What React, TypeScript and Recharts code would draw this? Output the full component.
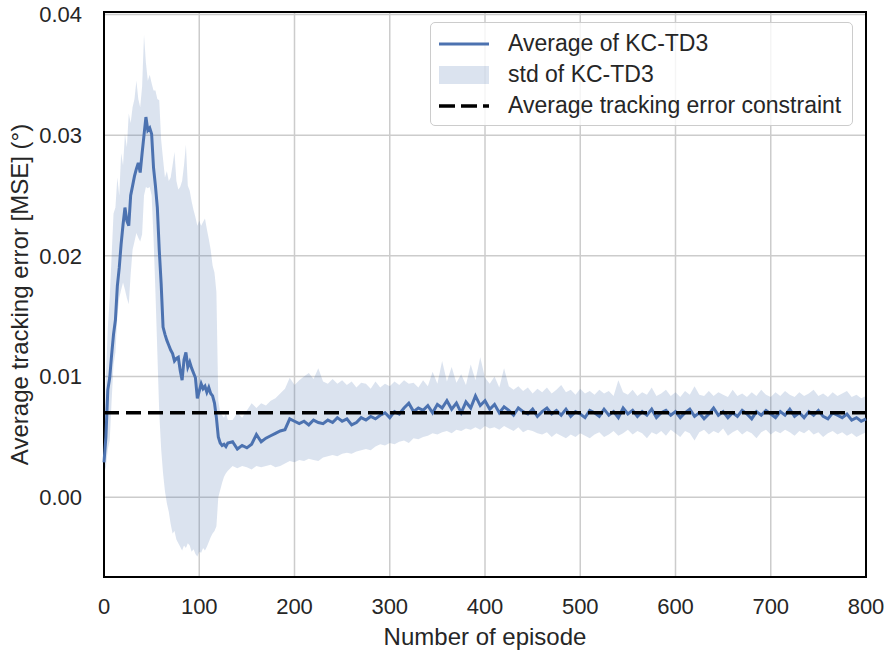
import React from "react";
import {
  ComposedChart,
  Area,
  Line,
  XAxis,
  YAxis,
  CartesianGrid,
  ReferenceLine,
  ReferenceArea,
} from "recharts";

// episode index of each sample (denser where the curve moves fast)
const episodes = [
  0, 2, 4, 6, 8, 10, 12, 14, 16, 18, 20, 22, 24, 26, 28, 30, 32, 34, 36, 38,
  40, 42, 44, 46, 48, 50, 52, 54, 56, 58, 60, 62, 64, 66, 68, 70, 72, 74, 76, 78,
  80, 82, 84, 86, 88, 90, 92, 94, 96, 98, 100, 102, 104, 106, 108, 110, 112, 114, 116, 118,
  120, 122, 124, 126, 128, 130,
  135, 140, 145, 150, 155, 160, 165, 170, 175, 180,
  185, 190, 195, 200, 205, 210, 215, 220, 225, 230,
  235, 240, 245, 250, 255, 260, 265, 270, 275, 280,
  285, 290, 295, 300, 305, 310, 315, 320, 325, 330,
  335, 340, 345, 350, 355, 360, 365, 370, 375, 380,
  385, 390, 395, 400, 405, 410, 415, 420, 425, 430,
  435, 440, 445, 450, 455, 460, 465, 470, 475, 480,
  485, 490, 495, 500, 505, 510, 515, 520, 525, 530,
  535, 540, 545, 550, 555, 560, 565, 570, 575, 580,
  585, 590, 595, 600, 605, 610, 615, 620, 625, 630,
  635, 640, 645, 650, 655, 660, 665, 670, 675, 680,
  685, 690, 695, 700, 705, 710, 715, 720, 725, 730,
  735, 740, 745, 750, 755, 760, 765, 770, 775, 780,
  785, 790, 795, 800,
];

// average of KC-TD3
const meanErr = [
  0.0029, 0.0050, 0.0089, 0.0099, 0.0118, 0.0135, 0.0147, 0.0175, 0.0190, 0.0210,
  0.0226, 0.0240, 0.0229, 0.0225, 0.0250, 0.0258, 0.0266, 0.0272, 0.0277, 0.0269,
  0.0285, 0.0300, 0.0315, 0.0304, 0.0306, 0.0301, 0.0273, 0.0258, 0.0240, 0.0205,
  0.0177, 0.0141, 0.0135, 0.0130, 0.0126, 0.0122, 0.0119, 0.0113, 0.0115, 0.0116,
  0.0105, 0.0097, 0.0114, 0.0120, 0.0108, 0.0112, 0.0107, 0.0103, 0.0099, 0.0082,
  0.0088, 0.0094, 0.0090, 0.0092, 0.0087, 0.0091, 0.0086, 0.0084, 0.0078, 0.0066,
  0.0050, 0.0045, 0.0043, 0.0044, 0.0042, 0.0045,
  0.0046, 0.0040, 0.0043, 0.0041, 0.0044, 0.0052, 0.0046, 0.0049, 0.0051, 0.0053,
  0.0055, 0.0056, 0.0065, 0.0063, 0.0061, 0.0063, 0.0060, 0.0064, 0.0062, 0.0061,
  0.0064, 0.0062, 0.0066, 0.0063, 0.0065, 0.0060, 0.0062, 0.0066, 0.0064, 0.0067,
  0.0065, 0.0068, 0.0070, 0.0066, 0.0071, 0.0069, 0.0074, 0.0078, 0.0071, 0.0074,
  0.0072, 0.0076, 0.0070, 0.0077, 0.0074, 0.0080, 0.0073, 0.0078, 0.0070, 0.0079,
  0.0074, 0.0084, 0.0076, 0.0080, 0.0073, 0.0077, 0.0070, 0.0075, 0.0072, 0.0068,
  0.0074, 0.0071, 0.0069, 0.0073, 0.0067, 0.0071, 0.0074, 0.0069, 0.0072, 0.0068,
  0.0073, 0.0067, 0.0071, 0.0069, 0.0066, 0.0072, 0.0070, 0.0067, 0.0073, 0.0068,
  0.0071, 0.0066, 0.0074, 0.0069, 0.0072, 0.0067, 0.0071, 0.0068, 0.0073, 0.0066,
  0.0070, 0.0072, 0.0068, 0.0071, 0.0066, 0.0070, 0.0073, 0.0067, 0.0070, 0.0065,
  0.0069, 0.0074, 0.0068, 0.0071, 0.0066, 0.0070, 0.0067, 0.0072, 0.0069, 0.0065,
  0.0071, 0.0068, 0.0072, 0.0069, 0.0066, 0.0071, 0.0068, 0.0073, 0.0067, 0.0070,
  0.0066, 0.0071, 0.0068, 0.0072, 0.0067, 0.0065, 0.0070, 0.0068, 0.0066, 0.0069,
  0.0064, 0.0066, 0.0063, 0.0065,
];

// mean + std
const stdUpper = [
  0.0040, 0.0100, 0.0140, 0.0165, 0.0200, 0.0235, 0.0240, 0.0265, 0.0250, 0.0285,
  0.0275, 0.0301, 0.0290, 0.0318, 0.0310, 0.0323, 0.0330, 0.0345, 0.0330, 0.0323,
  0.0340, 0.0383, 0.0360, 0.0345, 0.0350, 0.0343, 0.0337, 0.0337, 0.0330, 0.0329,
  0.0296, 0.0280, 0.0265, 0.0270, 0.0262, 0.0265, 0.0275, 0.0286, 0.0262, 0.0255,
  0.0257, 0.0262, 0.0275, 0.0292, 0.0258, 0.0254, 0.0245, 0.0238, 0.0232, 0.0225,
  0.0229, 0.0225, 0.0228, 0.0231, 0.0222, 0.0214, 0.0205, 0.0192, 0.0186, 0.0170,
  0.0080, 0.0070, 0.0068, 0.0066, 0.0070, 0.0064,
  0.0064, 0.0070, 0.0066, 0.0072, 0.0078, 0.0074, 0.0078, 0.0076, 0.0080, 0.0082,
  0.0086, 0.0090, 0.0099, 0.0093, 0.0097, 0.0100, 0.0103, 0.0098, 0.0107, 0.0096,
  0.0094, 0.0098, 0.0094, 0.0097, 0.0093, 0.0096, 0.0091, 0.0095, 0.0094, 0.0090,
  0.0096, 0.0091, 0.0094, 0.0092, 0.0096, 0.0093, 0.0097, 0.0094, 0.0095, 0.0091,
  0.0097, 0.0092, 0.0104, 0.0094, 0.0113, 0.0096, 0.0108, 0.0095, 0.0102, 0.0093,
  0.0110, 0.0097, 0.0116, 0.0099, 0.0094, 0.0100, 0.0091, 0.0107, 0.0092, 0.0089,
  0.0092, 0.0088, 0.0091, 0.0086, 0.0090, 0.0087, 0.0091, 0.0086, 0.0089, 0.0093,
  0.0087, 0.0089, 0.0085, 0.0090, 0.0086, 0.0088, 0.0085, 0.0089, 0.0086, 0.0088,
  0.0084, 0.0097, 0.0087, 0.0085, 0.0089, 0.0084, 0.0087, 0.0085, 0.0091, 0.0084,
  0.0086, 0.0089, 0.0084, 0.0087, 0.0083, 0.0088, 0.0085, 0.0092, 0.0085, 0.0084,
  0.0088, 0.0084, 0.0087, 0.0085, 0.0083, 0.0089, 0.0084, 0.0086, 0.0083, 0.0087,
  0.0084, 0.0089, 0.0085, 0.0083, 0.0087, 0.0084, 0.0088, 0.0085, 0.0083, 0.0087,
  0.0084, 0.0086, 0.0089, 0.0084, 0.0086, 0.0083, 0.0087, 0.0084, 0.0086, 0.0088,
  0.0083, 0.0085, 0.0082, 0.0084,
];

// mean - std
const stdLower = [
  0.0020, 0.0025, 0.0040, 0.0047, 0.0080, 0.0110, 0.0120, 0.0150, 0.0165, 0.0172,
  0.0178, 0.0172, 0.0165, 0.0160, 0.0185, 0.0205, 0.0212, 0.0219, 0.0215, 0.0212,
  0.0218, 0.0250, 0.0257, 0.0256, 0.0257, 0.0250, 0.0215, 0.0170, 0.0120, 0.0070,
  0.0040, 0.0020, 0.0005, -0.0005, -0.0012, -0.0022, -0.0030, -0.0028, -0.0035, -0.0038,
  -0.0041, -0.0044, -0.0040, -0.0042, -0.0038, -0.0040, -0.0045, -0.0043, -0.0047, -0.0049,
  -0.0045, -0.0046, -0.0042, -0.0044, -0.0041, -0.0037, -0.0033, -0.0030, -0.0028, -0.0024,
  0.0000, 0.0006, 0.0012, 0.0017, 0.0020, 0.0022,
  0.0026, 0.0024, 0.0026, 0.0025, 0.0023, 0.0026, 0.0025, 0.0026, 0.0027, 0.0025,
  0.0026, 0.0028, 0.0030, 0.0029, 0.0031, 0.0030, 0.0032, 0.0031, 0.0030, 0.0033,
  0.0034, 0.0035, 0.0034, 0.0036, 0.0037, 0.0036, 0.0038, 0.0039, 0.0040, 0.0039,
  0.0042, 0.0044, 0.0043, 0.0045, 0.0044, 0.0046, 0.0047, 0.0045, 0.0049, 0.0048,
  0.0050, 0.0051, 0.0053, 0.0052, 0.0054, 0.0055, 0.0053, 0.0056, 0.0055, 0.0057,
  0.0056, 0.0058, 0.0056, 0.0059, 0.0057, 0.0058, 0.0056, 0.0059, 0.0057, 0.0055,
  0.0058, 0.0054, 0.0056, 0.0055, 0.0053, 0.0052, 0.0054, 0.0050, 0.0053, 0.0051,
  0.0049, 0.0052, 0.0050, 0.0053, 0.0051, 0.0049, 0.0052, 0.0054, 0.0050, 0.0052,
  0.0055, 0.0051, 0.0053, 0.0056, 0.0052, 0.0055, 0.0053, 0.0049, 0.0054, 0.0052,
  0.0055, 0.0051, 0.0056, 0.0053, 0.0050, 0.0055, 0.0053, 0.0047, 0.0054, 0.0056,
  0.0052, 0.0055, 0.0053, 0.0057, 0.0051, 0.0054, 0.0056, 0.0052, 0.0055, 0.0053,
  0.0049, 0.0054, 0.0056, 0.0052, 0.0055, 0.0053, 0.0056, 0.0054, 0.0051, 0.0055,
  0.0053, 0.0056, 0.0052, 0.0054, 0.0050, 0.0053, 0.0055, 0.0052, 0.0054, 0.0051,
  0.0053, 0.0050, 0.0052, 0.0054,
];

const constraint = 0.007;
const xTicks = [0, 100, 200, 300, 400, 500, 600, 700, 800];
const yTicks = [0, 0.01, 0.02, 0.03, 0.04];
const Y_MIN = -0.0066;
const Y_MAX = 0.0402;

const BLUE = "#4c72b0";
const TEXT = "#262626";
const FONT = "'Liberation Sans', Arial, sans-serif";

const data = episodes.map((ep, i) => ({
  ep,
  mean: meanErr[i],
  band: [stdLower[i], stdUpper[i]],
}));

function LegendBox() {
  const rowStyle: React.CSSProperties = {
    display: "flex",
    alignItems: "center",
    height: 31,
  };
  const labelStyle: React.CSSProperties = {
    marginLeft: 19,
    fontSize: 23,
    color: TEXT,
    whiteSpace: "nowrap",
  };
  return (
    <div
      style={{
        position: "absolute",
        left: 430,
        top: 22,
        width: 423,
        height: 104,
        boxSizing: "border-box",
        padding: "5px 0 0 8px",
        background: "rgba(255,255,255,0.8)",
        border: "1px solid #cccccc",
        borderRadius: 5,
        fontFamily: FONT,
      }}
    >
      <div style={rowStyle}>
        <svg width={50} height={20}>
          <line x1={0} y1={10} x2={50} y2={10} stroke={BLUE} strokeWidth={3} />
        </svg>
        <span style={labelStyle}>Average of KC-TD3</span>
      </div>
      <div style={rowStyle}>
        <svg width={50} height={20}>
          <rect x={0} y={1} width={50} height={18} fill={BLUE} fillOpacity={0.2} />
        </svg>
        <span style={labelStyle}>std of KC-TD3</span>
      </div>
      <div style={rowStyle}>
        <svg width={50} height={20}>
          <line
            x1={0}
            y1={10}
            x2={50}
            y2={10}
            stroke="#000"
            strokeWidth={3.5}
            strokeDasharray="16 6"
          />
        </svg>
        <span style={labelStyle}>Average tracking error constraint</span>
      </div>
    </div>
  );
}

export default function App() {
  return (
    <div style={{ position: "absolute", left: 0, top: 0, width: 887, height: 652, fontFamily: FONT }}>
      <ComposedChart
        width={887}
        height={652}
        data={data}
        margin={{ top: 12, right: 21, bottom: 0, left: 0 }}
      >
        <CartesianGrid stroke="#cccccc" strokeWidth={1.5} />
        <XAxis
          dataKey="ep"
          type="number"
          domain={[0, 800]}
          ticks={xTicks}
          height={75}
          tickLine={false}
          axisLine={false}
          tickSize={0}
          tickMargin={21}
          tick={{ fill: TEXT, fontSize: 22 }}
          label={{
            value: "Number of episode",
            position: "insideBottom",
            offset: 7,
            fill: TEXT,
            fontSize: 24,
          }}
        />
        <YAxis
          type="number"
          domain={[Y_MIN, Y_MAX]}
          ticks={yTicks}
          width={104}
          tickLine={false}
          axisLine={false}
          tickSize={0}
          tickMargin={22}
          tick={{ fill: TEXT, fontSize: 22 }}
          tickFormatter={(v: number) => v.toFixed(2)}
          allowDataOverflow
          label={{
            value: "Average tracking error [MSE] (°)",
            angle: -90,
            position: "insideLeft",
            offset: 19,
            fill: TEXT,
            fontSize: 24,
            style: { textAnchor: "middle" },
          }}
        />
        <Area
          dataKey="band"
          type="linear"
          stroke="none"
          fill={BLUE}
          fillOpacity={0.2}
          isAnimationActive={false}
          activeDot={false}
        />
        <Line
          dataKey="mean"
          type="linear"
          stroke={BLUE}
          strokeWidth={3}
          dot={false}
          isAnimationActive={false}
        />
        <ReferenceLine
          y={constraint}
          stroke="#000"
          strokeWidth={3.5}
          strokeDasharray="15 7"
        />
        <ReferenceArea
          x1={0}
          x2={800}
          y1={Y_MIN}
          y2={Y_MAX}
          fill="none"
          stroke="#000"
          strokeWidth={2}
          ifOverflow="visible"
        />
      </ComposedChart>
      <LegendBox />
    </div>
  );
}
